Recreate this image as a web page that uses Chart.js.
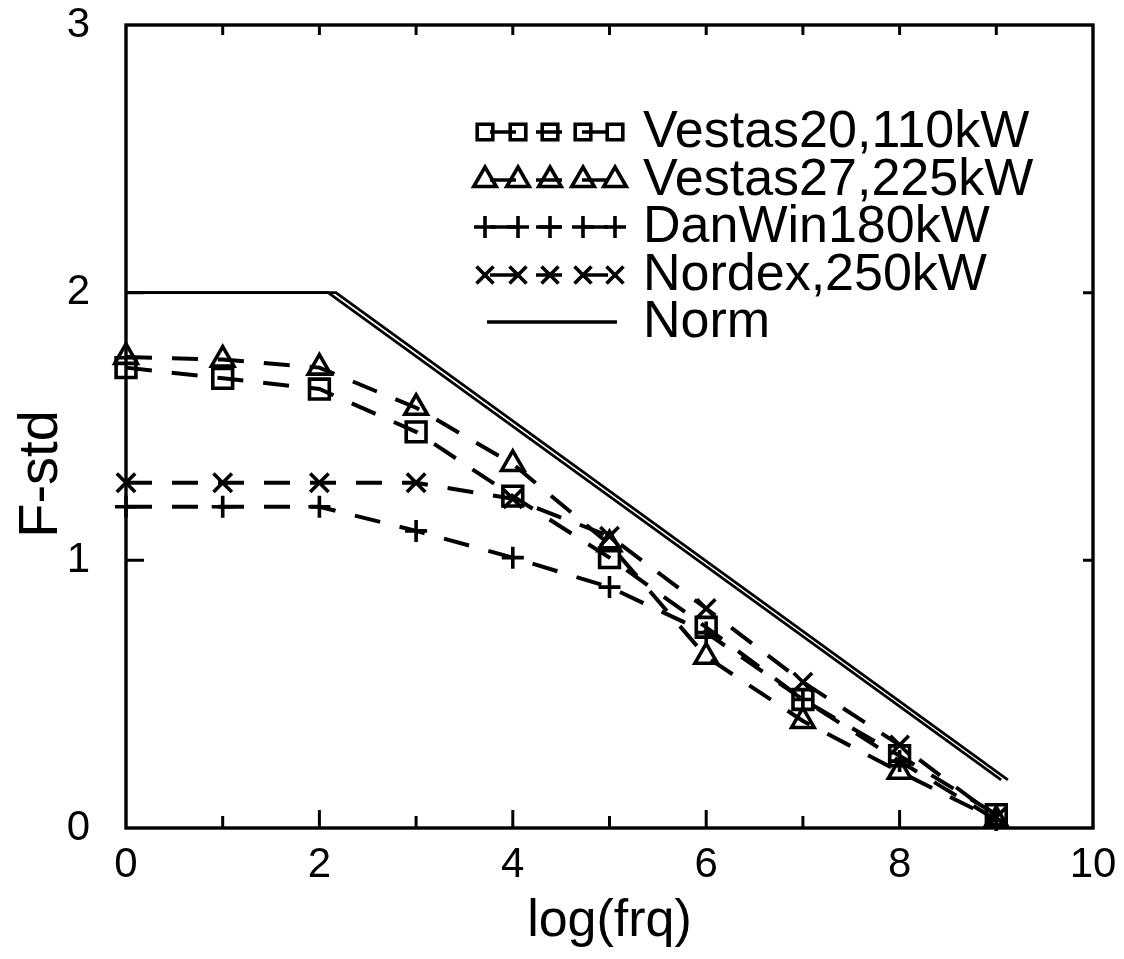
<!DOCTYPE html>
<html>
<head>
<meta charset="utf-8">
<script src="https://cdn.jsdelivr.net/npm/chart.js@4.4.0/dist/chart.umd.min.js"></script>
<style>
  html, body { margin: 0; padding: 0; background: #fff; }
  canvas { display: block; }
</style>
</head>
<body>
<canvas id="c" width="1124" height="959"></canvas>
<script>
// Measured F-std against log(frq) for four turbines, plus the norm curve
const logFrq   = [0, 1, 2, 3, 4, 5, 6, 7, 8, 9];
const vestas20 = [1.72, 1.68, 1.64, 1.48, 1.24, 1.01, 0.75, 0.48, 0.27, 0.05];
const vestas27 = [1.76, 1.75, 1.72, 1.57, 1.36, 1.06, 0.64, 0.40, 0.21, 0.03];
const danWin   = [1.20, 1.20, 1.20, 1.11, 1.01, 0.90, 0.73, 0.48, 0.25, 0.03];
const nordex   = [1.29, 1.29, 1.29, 1.29, 1.23, 1.09, 0.82, 0.545, 0.31, 0.04];

// Norm curve, drawn as a double line
const normAX = [0, 2.09, 9.05];
const normAY = [2, 2, 0.18];
const normBX = [0, 2.17, 9.12];
const normBY = [2, 2, 0.18];

const seriesNames = ['Vestas20,110kW', 'Vestas27,225kW', 'DanWin180kW', 'Nordex,250kW', 'Norm'];

const xTicks = [0, 2, 4, 6, 8, 10];
const xTickLabels = ['0', '2', '4', '6', '8', '10'];
const yTicks = [0, 1, 2, 3];
const yTickLabels = ['0', '1', '2', '3'];
const xMinorTicks = [1, 2, 3, 4, 5, 6, 7, 8, 9];
const yInnerTicks = [1, 2];

const FONT = '"Liberation Sans", Arial, sans-serif';
const INK = '#000';
const DASH = [26, 20];

function pts(xs, ys) { return xs.map((x, i) => ({ x: x, y: ys[i] })); }

function measured(label, ys, style, radius) {
  return {
    label: label,
    data: pts(logFrq, ys),
    showLine: true,
    borderColor: INK,
    borderWidth: 4,
    borderDash: DASH,
    pointStyle: style,
    pointRadius: radius,
    pointHoverRadius: radius,
    pointBorderWidth: 3.6,
    pointBorderColor: INK,
    pointBackgroundColor: 'rgba(0,0,0,0)',
    clip: false
  };
}

function normLine(xs, ys) {
  return {
    label: 'Norm',
    data: pts(xs, ys),
    showLine: true,
    borderColor: INK,
    borderWidth: 2.8,
    pointRadius: 0,
    pointHoverRadius: 0,
    clip: false
  };
}

// Marker glyphs for the legend rows
function marker(ctx, style, x, y, r) {
  ctx.beginPath();
  if (style === 'rect') {
    const s = Math.SQRT1_2 * r;
    ctx.rect(x - s, y - s, 2 * s, 2 * s);
  } else if (style === 'triangle') {
    for (let k = 0; k < 3; k++) {
      const a = k * 2 * Math.PI / 3;
      const px = x + Math.sin(a) * r, py = y - Math.cos(a) * r;
      if (k === 0) ctx.moveTo(px, py); else ctx.lineTo(px, py);
    }
    ctx.closePath();
  } else if (style === 'cross') {
    ctx.moveTo(x, y - r); ctx.lineTo(x, y + r);
    ctx.moveTo(x - r, y); ctx.lineTo(x + r, y);
  } else if (style === 'crossRot') {
    const o = Math.SQRT1_2 * r;
    ctx.moveTo(x - o, y - o); ctx.lineTo(x + o, y + o);
    ctx.moveTo(x - o, y + o); ctx.lineTo(x + o, y - o);
  }
  ctx.stroke();
}

const framePlugin = {
  id: 'frame',
  beforeDatasetsDraw(chart) {
    const { ctx, chartArea: a, scales: { x, y } } = chart;
    ctx.save();
    ctx.strokeStyle = INK;
    ctx.lineWidth = 3.4;
    ctx.strokeRect(a.left, a.top, a.right - a.left, a.bottom - a.top);
    ctx.lineWidth = 3;
    ctx.beginPath();
    xMinorTicks.forEach(v => {
      const px = x.getPixelForValue(v);
      const len = v % 2 === 0 ? 18 : 12;
      ctx.moveTo(px, a.bottom); ctx.lineTo(px, a.bottom - len);
      ctx.moveTo(px, a.top); ctx.lineTo(px, a.top + 10);
    });
    yInnerTicks.forEach(v => {
      const py = y.getPixelForValue(v);
      ctx.moveTo(a.left, py); ctx.lineTo(a.left + 18, py);
      ctx.moveTo(a.right, py); ctx.lineTo(a.right - 10, py);
    });
    ctx.stroke();

    // vertical axis title
    ctx.fillStyle = INK;
    ctx.font = '56px ' + FONT;
    ctx.textAlign = 'center';
    ctx.textBaseline = 'middle';
    ctx.translate(42, 474);
    ctx.rotate(-Math.PI / 2);
    ctx.fillText('F-std', 0, 0);
    ctx.restore();
  }
};

const legendPlugin = {
  id: 'plotLegend',
  afterDraw(chart) {
    const ctx = chart.ctx;
    const rowsY = [132, 180, 227, 275, 322];
    const mx = [485, 518, 550, 583, 615];
    const styles = ['rect', 'triangle', 'cross', 'crossRot'];
    const radii = [11, 13, 11, 12];
    ctx.save();
    ctx.strokeStyle = INK;
    ctx.fillStyle = INK;
    for (let i = 0; i < 4; i++) {
      const yy = rowsY[i];
      ctx.lineWidth = 3.6;
      ctx.setLineDash(DASH);
      ctx.lineDashOffset = 0;
      ctx.beginPath();
      ctx.moveTo(490, yy); ctx.lineTo(612, yy);
      ctx.stroke();
      ctx.setLineDash([]);
      ctx.lineWidth = 3.6;
      mx.forEach(px => marker(ctx, styles[i], px, yy, radii[i]));
    }
    ctx.lineWidth = 3.6;
    ctx.beginPath();
    ctx.moveTo(487, rowsY[4]); ctx.lineTo(617, rowsY[4]);
    ctx.stroke();

    ctx.font = '52px ' + FONT;
    ctx.textAlign = 'left';
    ctx.textBaseline = 'middle';
    seriesNames.forEach((s, i) => ctx.fillText(s, 643, rowsY[i] + 1));
    ctx.restore();
  }
};

new Chart(document.getElementById('c'), {
  type: 'scatter',
  data: {
    datasets: [
      normLine(normAX, normAY),
      normLine(normBX, normBY),
      measured(seriesNames[0], vestas20, 'rect', 14),
      measured(seriesNames[1], vestas27, 'triangle', 13),
      measured(seriesNames[2], danWin, 'cross', 11),
      measured(seriesNames[3], nordex, 'crossRot', 13)
    ]
  },
  options: {
    responsive: false,
    animation: false,
    layout: { padding: { top: 25, right: 31, left: 0, bottom: 0 } },
    plugins: {
      legend: { display: false },
      tooltip: { enabled: false },
      title: { display: false }
    },
    scales: {
      x: {
        type: 'linear',
        min: 0,
        max: 10,
        grid: { display: false },
        border: { display: false },
        afterBuildTicks(s) { s.ticks = xTicks.map(v => ({ value: v })); },
        afterFit(s) { s.height = 131; s.paddingLeft = 0; s.paddingRight = 0; },
        ticks: {
          color: INK,
          font: { family: FONT, size: 42 },
          padding: 4,
          maxRotation: 0,
          autoSkip: false,
          callback: (v) => xTickLabels[xTicks.indexOf(v)]
        },
        title: {
          display: true,
          text: 'log(frq)',
          color: INK,
          font: { family: FONT, size: 52 },
          padding: { top: 0, bottom: 6 }
        }
      },
      y: {
        type: 'linear',
        min: 0,
        max: 3,
        grid: { display: false },
        border: { display: false },
        afterBuildTicks(s) { s.ticks = yTicks.map(v => ({ value: v })); },
        afterFit(s) { s.width = 126; s.paddingTop = 0; s.paddingBottom = 0; },
        ticks: {
          color: INK,
          font: { family: FONT, size: 42 },
          padding: 28,
          autoSkip: false,
          callback: (v) => yTickLabels[yTicks.indexOf(v)]
        }
      }
    }
  },
  plugins: [framePlugin, legendPlugin]
});
</script>
</body>
</html>
